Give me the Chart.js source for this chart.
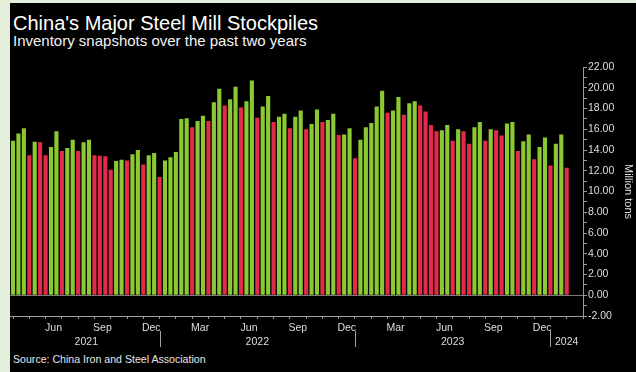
<!DOCTYPE html>
<html>
<head>
<meta charset="utf-8">
<title>China's Major Steel Mill Stockpiles</title>
<script src="https://cdn.jsdelivr.net/npm/chart.js@4.4.1/dist/chart.umd.min.js"></script>
<style>
  html, body { margin: 0; padding: 0; background: #e3efdb; }
  #panel {
    position: absolute; left: 10px; top: 3px; width: 626px; height: 369px;
    background: #000; color: #fff; overflow: hidden;
    font-family: 'Liberation Sans', Arial, sans-serif;
  }
  #panel h1, #panel h2, #panel p { position: absolute; left: 3px; margin: 0; font-weight: normal; white-space: nowrap; }
  #panel h1 { top: 8px; font-size: 20px; line-height: 24px; }
  #panel h2 { top: 29px; font-size: 15px; line-height: 18px; color: #f2f2f2; }
  #panel p { top: 350px; font-size: 10.6px; line-height: 13px; color: #e6e6e6; }
  #chart { position: absolute; left: 0; top: 0; }
</style>
</head>
<body>
<div id="panel">
  <h1>China's Major Steel Mill Stockpiles</h1>
  <h2>Inventory snapshots over the past two years</h2>
  <p>Source: China Iron and Steel Association</p>
  <canvas id="chart" width="626" height="369"></canvas>
</div>
<script>
// Stockpiles in million tons, one value per ten-day period (1st, 11th, 21st of each month)
const stock2021 = [14.9, 15.6, 16.1, 13.5, 14.8, 14.75, 13.5, 14.3, 15.8, 13.9, 14.2, 15.0, 13.9, 14.75,
  15.0, 13.5, 13.45, 13.4, 12.1, 12.95, 13.05, 13.0, 13.6, 14.0, 12.6, 13.5, 13.7];
const stock2022 = [11.4, 13.0, 13.3, 13.8, 17.0, 17.05, 16.2, 16.8, 17.3, 16.8, 18.6, 19.9, 18.3, 18.9,
  20.1, 18.1, 18.7, 20.7, 17.1, 18.2, 19.2, 16.7, 17.2, 17.5, 16.1, 17.2, 17.8, 16.0, 16.5, 17.9,
  16.7, 16.9, 17.5, 15.45, 15.5, 16.1];
const stock2023 = [13.2, 15.0, 16.2, 16.6, 18.2, 19.7, 17.6, 17.8, 19.1, 17.4, 18.5, 18.7, 18.3, 17.7,
  16.4, 15.8, 15.9, 16.4, 14.9, 16.0, 15.8, 14.6, 16.2, 16.7, 14.9, 16.0, 15.9, 15.4, 16.55, 16.7,
  13.9, 14.85, 15.5, 13.1, 14.3, 15.2];
const stock2024 = [12.5, 14.6, 15.5, 12.3];

const years = ['2021', '2022', '2023', '2024'];
const monthNames = ['Jan', 'Feb', 'Mar', 'Apr', 'May', 'Jun', 'Jul', 'Aug', 'Sep', 'Oct', 'Nov', 'Dec'];
const quarterLabels = ['Mar', 'Jun', 'Sep', 'Dec'];
const firstMonth = 3;      // series starts in April 2021
const periodsPerMonth = 3;
const axisMonths = 35;     // axis runs to the start of March 2024

const UP = '#8bc832';
const DOWN = '#e22b4b';

const yearlyStock = [stock2021, stock2022, stock2023, stock2024];
const stockpiles = yearlyStock.flat();

// x values are period indexes, so month boundaries fall on multiples of 3
const points = stockpiles.map((value, i) => ({ x: i, y: value }));
const barColors = stockpiles.map((value, i) => (i === 0 || value >= stockpiles[i - 1]) ? UP : DOWN);

const xMax = axisMonths * periodsPerMonth;
const monthStarts = Array.from({ length: axisMonths + 1 }, (_, k) => k * periodsPerMonth);

// first period of every year, used for the year labels and separators
const yearStarts = yearlyStock.reduce((starts, list, i) => {
  starts.push(i === 0 ? 0 : starts[i - 1] + yearlyStock[i - 1].length);
  return starts;
}, []);

const monthLabel = (value) => {
  const k = Math.round(value / periodsPerMonth);
  if (k >= axisMonths) return '';
  const name = monthNames[(firstMonth + k) % 12];
  return quarterLabels.includes(name) ? name : '';
};

// years under the month labels, with a short divider at each 1 January
const yearMarks = {
  id: 'yearMarks',
  afterDraw(chart) {
    const { ctx, scales: { x } } = chart;
    ctx.save();
    ctx.strokeStyle = '#a0a0a0';
    ctx.lineWidth = 1;
    yearStarts.slice(1).forEach((start) => {
      const px = Math.round(x.getPixelForValue(start)) + 0.5;
      ctx.beginPath();
      ctx.moveTo(px, x.top + 15);
      ctx.lineTo(px, x.top + 31);
      ctx.stroke();
    });
    ctx.fillStyle = '#dedede';
    ctx.font = "10.5px 'Liberation Sans', Arial, sans-serif";
    ctx.textAlign = 'center';
    ctx.textBaseline = 'middle';
    years.forEach((year, i) => {
      const end = i < years.length - 1 ? yearStarts[i + 1] : xMax;
      const mid = (yearStarts[i] + end) / 2;
      ctx.fillText(year, x.getPixelForValue(mid), x.top + 26.5);
    });
    ctx.restore();
  }
};

Chart.defaults.font.family = "'Liberation Sans', Arial, sans-serif";

new Chart(document.getElementById('chart'), {
  type: 'bar',
  data: {
    datasets: [{
      data: points,
      backgroundColor: barColors,
      borderWidth: 0,
      barPercentage: 0.76,
      categoryPercentage: 1
    }]
  },
  options: {
    responsive: false,
    animation: false,
    layout: { padding: { top: 64, right: 0, bottom: 26, left: 0 } },
    plugins: { legend: { display: false }, tooltip: { enabled: false } },
    scales: {
      x: {
        type: 'linear',
        min: -0.5,
        max: xMax,
        bounds: 'data',
        offset: false,
        afterBuildTicks: (scale) => { scale.ticks = monthStarts.map(v => ({ value: v })); },
        afterFit: (scale) => { scale.height = 30; },
        grid: { drawOnChartArea: false, drawTicks: true, tickLength: 3, tickColor: '#9a9a9a', offset: false },
        border: { display: true, color: '#9a9a9a' },
        ticks: {
          autoSkip: false,
          maxRotation: 0,
          labelOffset: 8,
          padding: 3,
          color: '#dedede',
          font: { size: 10.5 },
          callback: (value) => monthLabel(value)
        }
      },
      y: {
        position: 'right',
        min: -2,
        max: 22,
        afterFit: (scale) => { scale.width = 53; },
        grid: {
          drawOnChartArea: true,
          drawTicks: true,
          tickLength: 4,
          tickColor: '#9a9a9a',
          color: (ctx) => ctx.tick && ctx.tick.value === 0 ? '#7a7a7a' : 'transparent'
        },
        border: { display: true, color: '#9a9a9a' },
        title: {
          display: true,
          text: 'Million tons',
          color: '#dedede',
          font: { size: 11 },
          padding: { top: 1.5, bottom: 0 }
        },
        ticks: {
          stepSize: 1,
          maxTicksLimit: 30,
          autoSkip: false,
          padding: 1,
          color: '#dedede',
          font: { size: 10.5 },
          callback: (value) => value % 2 === 0 ? value.toFixed(2) : ''
        }
      }
    }
  },
  plugins: [yearMarks]
});
</script>
</body>
</html>
